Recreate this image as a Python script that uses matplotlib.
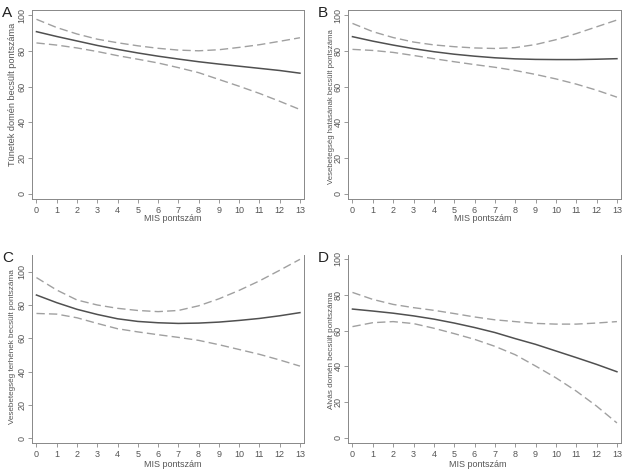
import matplotlib
matplotlib.use("Agg")
import matplotlib.pyplot as plt

plt.rcParams['font.family'] = ['Liberation Sans', 'DejaVu Sans']

mis = list(range(14))
x_ticks = list(range(14))
y_ticks = [0, 20, 40, 60, 80, 100]

a_fit = [90.7, 88.0, 85.5, 83.0, 80.8, 78.8, 77.0, 75.4, 73.9, 72.6, 71.4, 70.2, 69.0, 67.5]
a_up = [97.6, 93.0, 89.4, 86.5, 84.5, 82.8, 81.4, 80.4, 80.0, 80.6, 81.9, 83.4, 85.3, 87.3]
a_lo = [84.4, 83.2, 81.6, 79.6, 77.3, 75.3, 73.2, 70.6, 67.8, 64.0, 60.2, 56.2, 51.8, 47.2]

b_fit = [87.9, 85.4, 83.2, 81.2, 79.5, 78.1, 77.0, 76.1, 75.5, 75.2, 75.1, 75.1, 75.3, 75.6]
b_up = [95.3, 90.7, 87.4, 84.9, 83.3, 82.3, 81.6, 81.3, 81.8, 83.5, 86.2, 89.6, 93.4, 97.2]
b_lo = [80.8, 80.2, 79.1, 77.4, 75.6, 73.9, 72.3, 70.8, 69.0, 66.8, 64.3, 61.4, 58.0, 54.1]

c_fit = [86.1, 81.5, 77.5, 74.4, 71.8, 70.2, 69.4, 69.0, 69.2, 69.8, 70.8, 72.0, 73.6, 75.5]
c_up = [96.6, 89.1, 83.1, 80.1, 78.1, 76.8, 76.1, 76.8, 79.6, 83.8, 88.9, 94.6, 101.0, 107.6]
c_lo = [75.0, 74.6, 72.4, 69.0, 65.8, 63.9, 62.2, 60.6, 58.8, 56.2, 53.3, 50.4, 47.0, 43.3]

d_fit = [72.0, 70.9, 69.7, 68.2, 66.4, 64.2, 61.7, 58.9, 55.5, 52.3, 48.6, 44.9, 41.1, 37.0]
d_up = [81.3, 77.4, 74.6, 72.8, 71.3, 69.5, 67.6, 66.0, 65.0, 64.0, 63.6, 63.6, 64.2, 65.0]
d_lo = [62.2, 64.4, 65.0, 63.9, 61.3, 58.3, 55.1, 51.2, 46.5, 40.2, 33.6, 26.2, 17.8, 8.4]

letters = ["A", "B", "C", "D"]
ylabels = ["Tünetek domén becsült pontszáma",
           "Vesebetegség hatásának becsült pontszáma",
           "Vesebetegség terhének becsült pontszáma",
           "Alvás domén becsült pontszáma"]
xlabel = "MIS pontszám"

W, H = 636, 475
fig = plt.figure(figsize=(W / 100, H / 100), dpi=100)

boxes = [(32, 304, 10, 199), (348, 621, 10, 199), (32, 304, 255, 443), (348, 621, 255, 443)]
ylims = [(-2.8, 102.8), (-2.8, 102.8), (-3.0, 110.2), (-2.8, 102.2)]
top_spine = [True, True, False, False]
series = [(a_fit, a_up, a_lo), (b_fit, b_up, b_lo), (c_fit, c_up, c_lo), (d_fit, d_up, d_lo)]
ylab_pos = [(-0.070, 0.556), (-0.062, 0.487), (-0.070, 0.515), (-0.062, 0.495)]
ylab_size = [6.6, 5.6, 5.9, 5.9]
xlab_pos = [(0.518, -0.105), (0.495, -0.105), (0.518, -0.112), (0.476, -0.112)]
letter_top = [6, 6, 251, 251]

txt = '#555555'
spc = '#888888'
for i in range(4):
    l, r, t, b = boxes[i]
    ax = fig.add_axes([l / W, 1 - b / H, (r - l) / W, (b - t) / H])
    fit, up, lo = series[i]
    ax.plot(mis, up, color='#a0a0a0', lw=1.0, ls=(0, (6, 3)))
    ax.plot(mis, lo, color='#a0a0a0', lw=1.0, ls=(0, (6, 3)))
    ax.plot(mis, fit, color='#505050', lw=1.1)
    ax.set_xlim(-0.22, 13.2)
    ax.set_ylim(*ylims[i])
    ax.set_xticks(x_ticks)
    ax.set_yticks(y_ticks)
    ax.tick_params(axis='both', length=3, width=0.6, colors=spc, labelcolor=txt, labelsize=6.5, pad=2)
    for lab in ax.get_yticklabels():
        lab.set_rotation(90)
        lab.set_va('center')
        lab.set_rotation_mode('anchor')
        lab.set_ha('center')
    ax.tick_params(axis='y', pad=4.3)
    for s in ax.spines.values():
        s.set_color(spc)
        s.set_linewidth(0.7)
    ax.spines['top'].set_visible(top_spine[i])
    ax.set_xlabel(xlabel, fontsize=6.5, color=txt, va='center')
    ax.xaxis.set_label_coords(*xlab_pos[i])
    ax.set_ylabel(ylabels[i], fontsize=ylab_size[i], color=txt, va='center')
    ax.yaxis.set_label_coords(*ylab_pos[i])
    fig.text((l - 30) / W, 1 - letter_top[i] / H, letters[i], fontsize=11, color='#222222', ha='left', va='top')

fig.savefig("out.png", dpi=100)
